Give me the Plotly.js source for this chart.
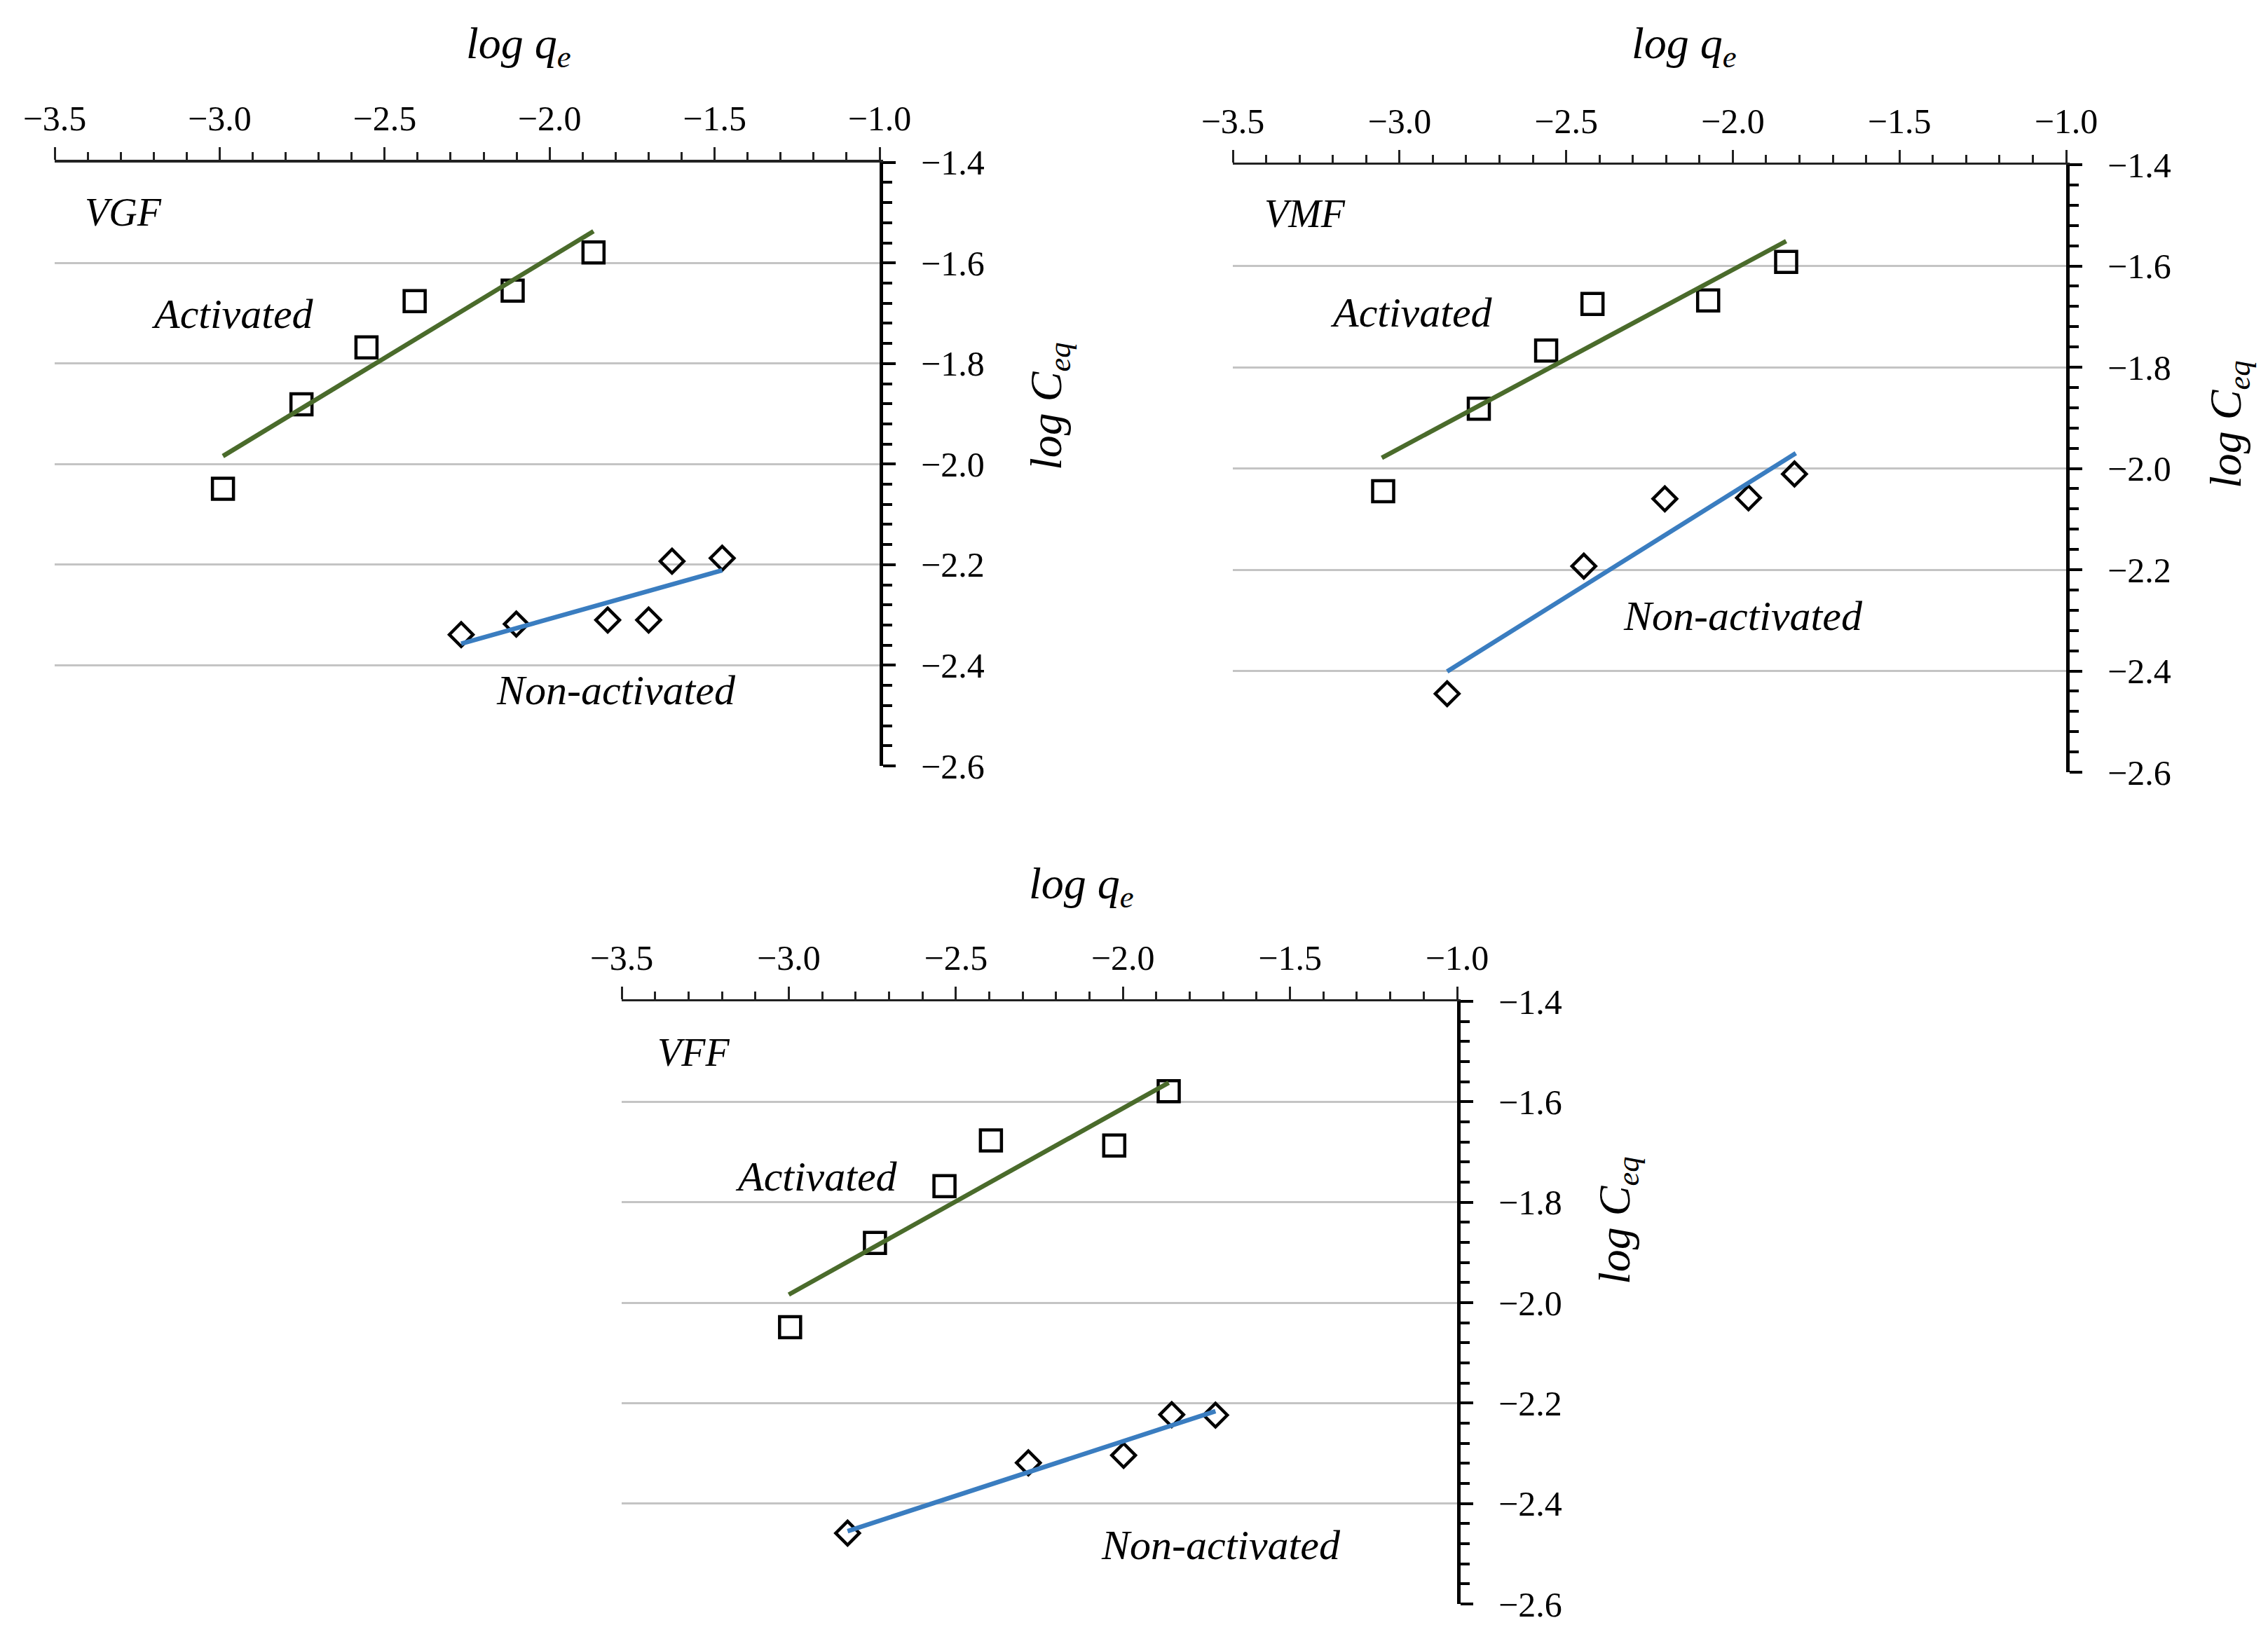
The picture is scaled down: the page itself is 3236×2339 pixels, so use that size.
<!DOCTYPE html>
<html>
<head>
<meta charset="utf-8">
<script src="https://cdn.plot.ly/plotly-3.0.1.min.js"></script>
<style>html,body{margin:0;padding:0;background:#fff;}#chart{width:3236px;height:2339px;}</style>
</head>
<body>
<div id="chart"></div>
<script>
// ---- Data ----
const panelNames = ["VGF", "VMF", "VFF"];
const xTickVals = [-3.5, -3.0, -2.5, -2.0, -1.5, -1.0];
const yTickVals = [-2.6, -2.4, -2.2, -2.0, -1.8, -1.6, -1.4];

// VGF
const vgfActX = [-2.990, -2.752, -2.555, -2.409, -2.112, -1.867];
const vgfActY = [-2.049, -1.881, -1.768, -1.676, -1.655, -1.579];
const vgfActFitX = [-2.990, -1.867];
const vgfActFitY = [-1.984, -1.537];
const vgfNonX = [-2.268, -2.101, -1.824, -1.700, -1.629, -1.477];
const vgfNonY = [-2.339, -2.318, -2.310, -2.310, -2.193, -2.187];
const vgfNonFitX = [-2.268, -1.477];
const vgfNonFitY = [-2.357, -2.211];

// VMF
const vmfActX = [-3.049, -2.762, -2.560, -2.421, -2.074, -1.840];
const vmfActY = [-2.045, -1.882, -1.767, -1.675, -1.668, -1.592];
const vmfActFitX = [-3.053, -1.840];
const vmfActFitY = [-1.979, -1.551];
const vmfNonX = [-2.857, -2.447, -2.204, -1.953, -1.815];
const vmfNonY = [-2.445, -2.193, -2.060, -2.058, -2.011];
const vmfNonFitX = [-2.857, -1.811];
const vmfNonFitY = [-2.401, -1.970];

// VFF
const vffActX = [-2.996, -2.742, -2.534, -2.395, -2.026, -1.863];
const vffActY = [-2.049, -1.881, -1.768, -1.677, -1.687, -1.579];
const vffActFitX = [-3.000, -1.863];
const vffActFitY = [-1.984, -1.562];
const vffNonX = [-2.824, -2.283, -1.998, -1.854, -1.723];
const vffNonY = [-2.459, -2.319, -2.304, -2.223, -2.224];
const vffNonFitX = [-2.824, -1.723];
const vffNonFitY = [-2.455, -2.216];

// ---- Styling ----
const W = 3236, H = 2339;
const FONT = "'Liberation Serif', 'Times New Roman', serif";
const GREEN = "#4a6b2b";
const BLUE = "#3a7dc0";

const panels = [
  {act:[vgfActX,vgfActY], actFit:[vgfActFitX,vgfActFitY], non:[vgfNonX,vgfNonY], nonFit:[vgfNonFitX,vgfNonFitY]},
  {act:[vmfActX,vmfActY], actFit:[vmfActFitX,vmfActFitY], non:[vmfNonX,vmfNonY], nonFit:[vmfNonFitX,vmfNonFitY]},
  {act:[vffActX,vffActY], actFit:[vffActFitX,vffActFitY], non:[vffNonX,vffNonY], nonFit:[vffNonFitX,vffNonFitY]}
];

// plot areas in pixels [x0,x1,yTop,yBottom]
const boxes = [
  [78, 1255, 231.7, 1093],
  [1759, 2948, 235, 1102],
  [887, 2079, 1429, 2289]
];

const traces = [];
const layout = {
  width: W, height: H,
  margin: {l:0, r:0, t:0, b:0},
  paper_bgcolor: "#ffffff",
  plot_bgcolor: "rgba(0,0,0,0)",
  showlegend: false,
  font: {family: FONT, color: "#000", size: 50},
  annotations: []
};

panels.forEach((p, i) => {
  const n = i === 0 ? "" : String(i + 1);
  const xa = "x" + n, ya = "y" + n;
  const b = boxes[i];
  layout["xaxis" + n] = {
    domain: [b[0] / W, b[1] / W],
    anchor: ya,
    side: "top",
    range: [-3.5, -1.0],
    tickmode: "array", tickvals: xTickVals, tickformat: ".1f",
    ticks: "outside", ticklen: 18, tickwidth: 3, tickcolor: "#222",
    showline: true, linecolor: "#222", linewidth: 3.5,
    showgrid: false, zeroline: false,
    ticklabelstandoff: 4,
    tickfont: {family: FONT, size: 50, color: "#000"},
    minor: {dtick: 0.1, tick0: -3.5, ticks: "outside", ticklen: 11, tickwidth: 3, tickcolor: "#222", showgrid: false},
    fixedrange: true
  };
  layout["yaxis" + n] = {
    domain: [1 - b[3] / H, 1 - b[2] / H],
    anchor: xa,
    side: "right",
    range: [-2.6, -1.4],
    tickmode: "array", tickvals: yTickVals, tickformat: ".1f",
    ticks: "outside", ticklen: 18, tickwidth: 4, tickcolor: "#000",
    showline: true, linecolor: "#000", linewidth: 5,
    showgrid: true, gridcolor: "#c4c4c4", gridwidth: 3,
    zeroline: false,
    ticklabelstandoff: 26,
    tickfont: {family: FONT, size: 50, color: "#000"},
    minor: {dtick: 0.04, tick0: -2.6, ticks: "outside", ticklen: 13, tickwidth: 4, tickcolor: "#000", showgrid: false},
    fixedrange: true
  };
  traces.push({
    x: p.act[0], y: p.act[1], xaxis: xa, yaxis: ya, type: "scatter", mode: "markers",
    marker: {symbol: "square-open", size: 30, color: "#000", line: {width: 4.5, color: "#000"}},
    name: panelNames[i] + " Activated", cliponaxis: false
  });
  traces.push({
    x: p.non[0], y: p.non[1], xaxis: xa, yaxis: ya, type: "scatter", mode: "markers",
    marker: {symbol: "diamond-open", size: 26, color: "#000", line: {width: 4.5, color: "#000"}},
    name: panelNames[i] + " Non-activated", cliponaxis: false
  });
  traces.push({
    x: p.actFit[0], y: p.actFit[1], xaxis: xa, yaxis: ya, type: "scatter", mode: "lines",
    line: {color: GREEN, width: 6.5}, name: panelNames[i] + " Activated fit"
  });
  traces.push({
    x: p.nonFit[0], y: p.nonFit[1], xaxis: xa, yaxis: ya, type: "scatter", mode: "lines",
    line: {color: BLUE, width: 6.5}, name: panelNames[i] + " Non-activated fit"
  });
});

// in-plot labels (data coordinates of each panel)
const labelPos = [
  {name:[-3.292,-1.499], act:[-2.960,-1.701], non:[-1.799,-2.450]},
  {name:[-3.283,-1.497], act:[-2.964,-1.692], non:[-1.969,-2.291]},
  {name:[-3.284,-1.502], act:[-2.917,-1.749], non:[-1.707,-2.483]}
];
labelPos.forEach((lp, i) => {
  const n = i === 0 ? "" : String(i + 1);
  const base = {xref: "x" + n, yref: "y" + n, showarrow: false, xanchor: "center", yanchor: "middle"};
  layout.annotations.push(Object.assign({}, base, {x: lp.name[0], y: lp.name[1], text: "<i>" + panelNames[i] + "</i>", font: {family: FONT, size: 56, color: "#000"}}));
  layout.annotations.push(Object.assign({}, base, {x: lp.act[0], y: lp.act[1], text: "<i>Activated</i>", font: {family: FONT, size: 60, color: "#000"}}));
  layout.annotations.push(Object.assign({}, base, {x: lp.non[0], y: lp.non[1], text: "<i>Non-activated</i>", font: {family: FONT, size: 60, color: "#000"}}));
});

// axis titles (paper pixel positions)
const xTitlePos = [[740, 66], [2403, 66], [1543, 1265]];
const yTitlePos = [[1497, 580], [3180, 606], [2308, 1742]];
xTitlePos.forEach(pt => {
  layout.annotations.push({xref: "paper", yref: "paper", x: pt[0] / W, y: 1 - pt[1] / H,
    xanchor: "center", yanchor: "middle", showarrow: false,
    text: "<i>log q<sub>e</sub></i>", font: {family: FONT, size: 64, color: "#000"}});
});
yTitlePos.forEach(pt => {
  layout.annotations.push({xref: "paper", yref: "paper", x: pt[0] / W, y: 1 - pt[1] / H,
    xanchor: "center", yanchor: "middle", showarrow: false, textangle: -90,
    text: "<i>log C<sub>eq</sub></i>", font: {family: FONT, size: 64, color: "#000"}});
});

Plotly.newPlot("chart", traces, layout, {staticPlot: true, displayModeBar: false});
</script>
</body>
</html>
